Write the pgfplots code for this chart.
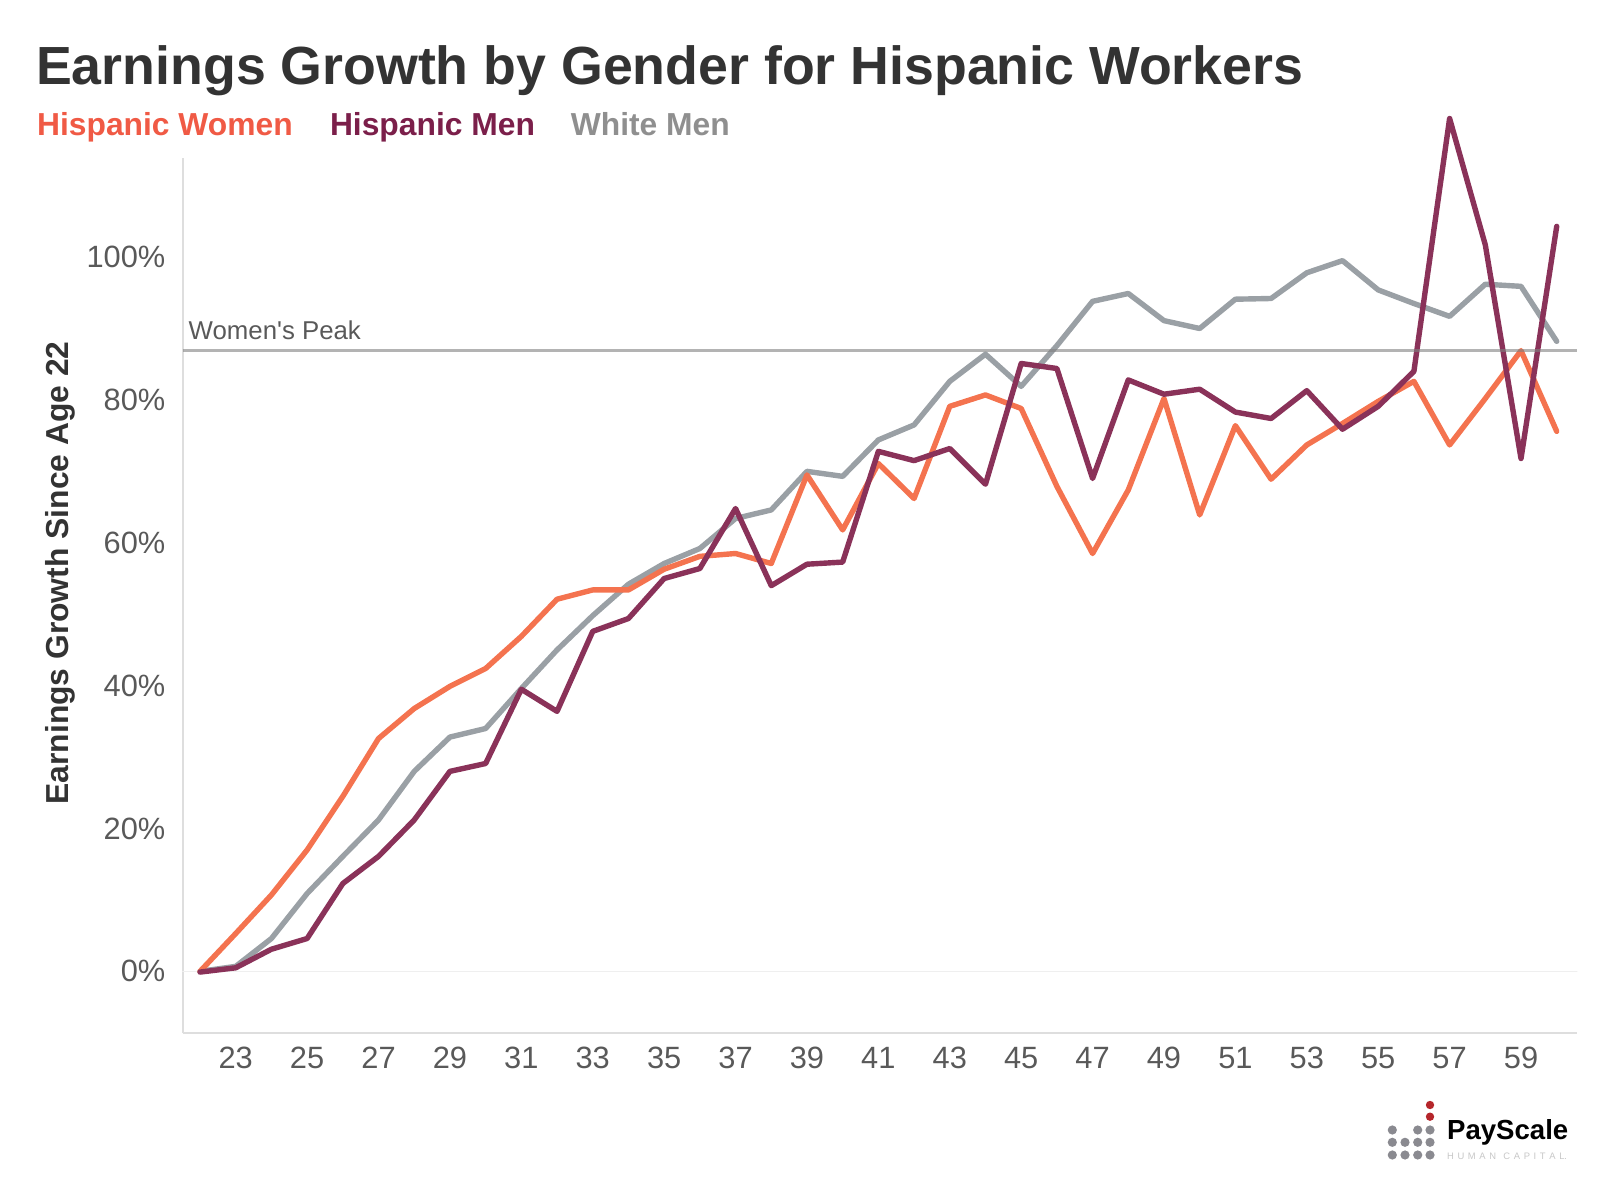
\documentclass[border=0pt]{standalone}
\usepackage{pgfplots}
\pgfplotsset{compat=1.18}
\usepackage{fontspec}
\setmainfont{Liberation Sans}
\definecolor{womenc}{HTML}{F4734F}
\definecolor{menc}{HTML}{8A3259}
\definecolor{whitec}{HTML}{9AA0A5}
\definecolor{womentxt}{HTML}{F05A45}
\definecolor{mentxt}{HTML}{7B1F4A}
\definecolor{whitetxt}{HTML}{8F8F8F}
\definecolor{titlegray}{HTML}{333333}
\definecolor{tickgray}{HTML}{595959}
\definecolor{axisgray}{HTML}{DEDEDE}
\definecolor{zerogray}{HTML}{EFEFEF}
\definecolor{peakc}{HTML}{808080}
\definecolor{logogray}{HTML}{8A8A90}
\definecolor{logored}{HTML}{B5262B}
\begin{document}
\begin{tikzpicture}[x=1pt,y=1pt]
\path[use as bounding box] (0,0) rectangle (800,600);
\begin{axis}[
  at={(91.35pt,83.35pt)}, anchor=south west,
  scale only axis, width=697pt, height=437.65pt,
  xmin=21.515, xmax=60.56, ymin=-8.67, ymax=113.87,
  clip=false,
  axis x line*=bottom, axis y line*=left,
  axis line style={draw=axisgray, line width=0.9pt, -},
  xtick={23,25,...,59},
  xticklabels={23,25,27,29,31,33,35,37,39,41,43,45,47,49,51,53,55,57,59},
  ytick={0,20,40,60,80,100},
  yticklabels={0\%,20\%,40\%,60\%,80\%,100\%},
  major tick length=0pt, tick style={draw=none},
  ticklabel style={font=\fontsize{15.4}{18}\selectfont, text=tickgray},
  yticklabel style={anchor=east, inner sep=0pt, xshift=-8.5pt},
  xticklabel style={anchor=north, inner sep=0pt, yshift=-6.7pt},
  every axis plot/.append style={line join=round, line cap=round},
]
\addplot[zerogray, line width=0.8pt] coordinates {(21.515,0) (60.56,0)};
\addplot[whitec, line width=2.7pt] coordinates {
(22,0) (23,0.7) (24,4.6) (25,10.9) (26,16.1) (27,21.2) (28,28.0) (29,32.8) (30,34.0)
(31,39.6) (32,45.0) (33,49.8) (34,54.2) (35,57.1) (36,59.2) (37,63.4) (38,64.6) (39,70.0)
(40,69.3) (41,74.4) (42,76.5) (43,82.6) (44,86.4) (45,81.9) (46,87.6) (47,93.8) (48,94.9)
(49,91.1) (50,90.0) (51,94.1) (52,94.2) (53,97.8) (54,99.5) (55,95.4) (56,93.5) (57,91.7)
(58,96.2) (59,95.9) (60,88.2)};
\addplot[womenc, line width=2.7pt] coordinates {
(22,0) (23,5.3) (24,10.7) (25,17.0) (26,24.5) (27,32.6) (28,36.8) (29,39.9) (30,42.4)
(31,46.9) (32,52.1) (33,53.4) (34,53.4) (35,56.3) (36,58.1) (37,58.5) (38,57.1) (39,69.5)
(40,61.8) (41,71.1) (42,66.2) (43,79.1) (44,80.7) (45,78.8) (46,67.9) (47,58.5) (48,67.4)
(49,80.2) (50,63.9) (51,76.4) (52,68.9) (53,73.7) (54,76.7) (55,79.8) (56,82.6) (57,73.7)
(58,80.2) (59,86.9) (60,75.6)};
\addplot[menc, line width=2.7pt] coordinates {
(22,-0.1) (23,0.5) (24,3.1) (25,4.6) (26,12.3) (27,16.1) (28,21.2) (29,28.0) (30,29.1)
(31,39.5) (32,36.4) (33,47.6) (34,49.4) (35,55.0) (36,56.4) (37,64.8) (38,54.0) (39,57.0)
(40,57.3) (41,72.8) (42,71.5) (43,73.2) (44,68.2) (45,85.1) (46,84.4) (47,69.0) (48,82.8)
(49,80.8) (50,81.5) (51,78.3) (52,77.4) (53,81.3) (54,75.9) (55,79.1) (56,84.0) (57,119.4)
(58,101.7) (59,71.8) (60,104.3)};
\addplot[peakc, opacity=0.6, line width=1.7pt, line cap=butt] coordinates {(21.515,86.9) (60.56,86.9)};
\node[anchor=base west, inner sep=0pt, font=\fontsize{12.9}{15}\selectfont, text=tickgray,
  xshift=2.8pt, yshift=5.35pt] at (axis cs:21.515,86.9) {Women\textquotesingle s Peak};
\end{axis}
% title and legend
\node[anchor=base west, inner sep=0pt, font=\bfseries\fontsize{26.85}{30}\selectfont, text=titlegray]
  at (17.85,557.6) {Earnings Growth by Gender for Hispanic Workers};
\node[anchor=base west, inner sep=0pt, font=\bfseries\fontsize{15.9}{18}\selectfont, text=womentxt]
  at (18.35,532.1) {Hispanic Women};
\node[anchor=base west, inner sep=0pt, font=\bfseries\fontsize{15.9}{18}\selectfont, text=mentxt]
  at (164.8,532.1) {Hispanic Men};
\node[anchor=base west, inner sep=0pt, font=\bfseries\fontsize{15.9}{18}\selectfont, text=whitetxt]
  at (285.2,532.1) {White Men};
% y axis title
\node[rotate=90, anchor=base, inner sep=0pt, font=\bfseries\fontsize{15.9}{18}\selectfont, text=titlegray]
  at (34,313.5) {Earnings Growth Since Age 22};
% logo
\foreach \x in {696.15,708.85,715} \fill[logogray] (\x,35) circle (2.3);
\foreach \x in {696.15,702.5,708.85,715} {\fill[logogray] (\x,28.85) circle (2.3); \fill[logogray] (\x,22.5) circle (2.3);}
\fill[logored] (715,47.5) circle (2.1);
\fill[logored] (715,41.65) circle (2.1);
\node[anchor=base west, inner sep=0pt, font=\bfseries\fontsize{13.8}{16}\selectfont, text=black]
  at (723.35,30.35) {PayScale};
\node[anchor=base west, inner sep=0pt, font=\fontsize{4.7}{6}\selectfont, text=black!22]
  at (723.35,20.35) {\makebox[60pt][s]{H\hfill U\hfill M\hfill A\hfill N\hfill\hfill C\hfill A\hfill P\hfill I\hfill T\hfill A\hfill L.}};
\end{tikzpicture}
\end{document}
